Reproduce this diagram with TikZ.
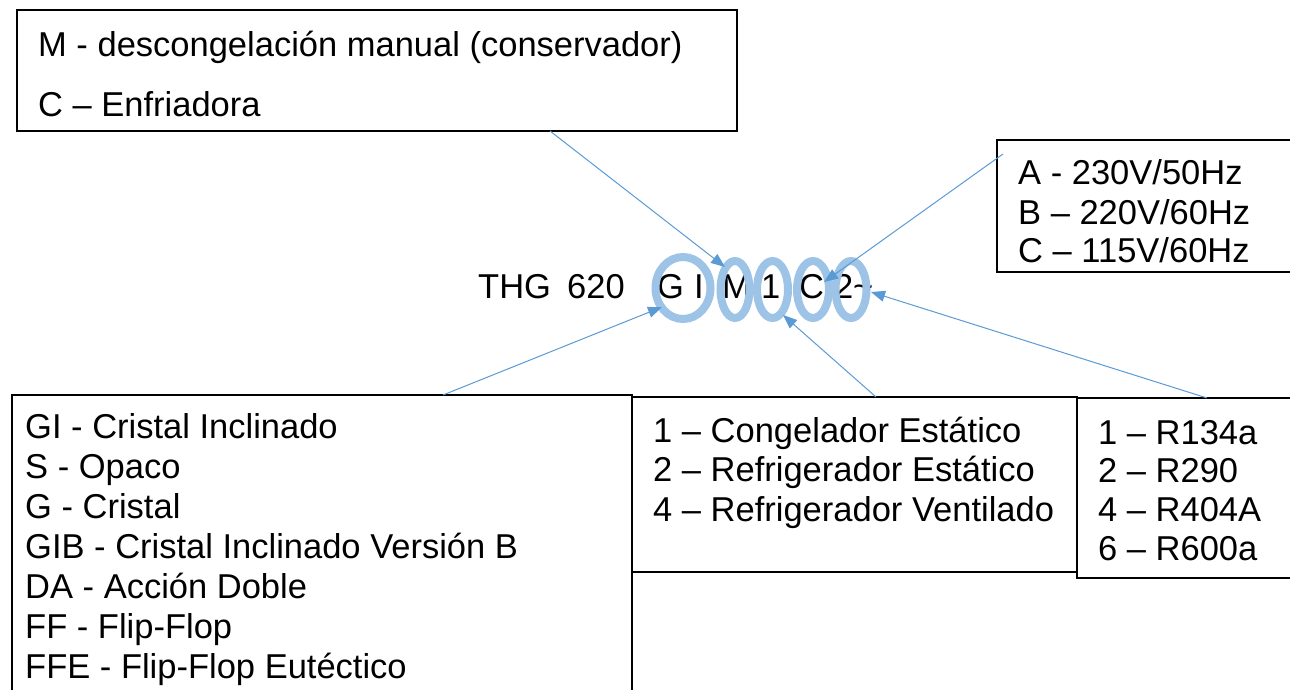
\documentclass[tikz,border=0pt]{standalone}
\usepackage{fontspec}
\setmainfont{Liberation Sans}
\usetikzlibrary{arrows.meta}
\definecolor{ringblue}{HTML}{9DC3E6}
\definecolor{arrowblue}{HTML}{5B9BD5}
\begin{document}
\begin{tikzpicture}[x=1pt,y=-1pt,
  txt/.style={anchor=base west,inner sep=0pt,font=\fontsize{34.5}{39.5}\selectfont},
  boxline/.style={draw=black,line width=1.4pt},
  ring/.style={draw=ringblue,line width=8pt},
  pointer/.style={draw=arrowblue,line width=1pt,-{Triangle[length=14pt,width=11pt]}}]
\useasboundingbox (0,0) rectangle (1290,690);
\fill[white] (0,0) rectangle (1290,690);
\begin{scope}
\clip (0,0) rectangle (1290,690);
% boxes
\draw[boxline] (17,10) rectangle (737,131);
\draw[boxline] (997,140) rectangle (1300,272);
\draw[boxline] (12,395) rectangle (632,700);
\draw[boxline] (632,397) rectangle (1077,572);
\draw[boxline] (1077,398) rectangle (1300,578);
\end{scope}
% box texts
\node[txt] (m1) at (38,57) {M - descongelación manual (conservador)};
\node[txt] (m2) at (38,117) {C – Enfriadora};
\node[txt] (v1) at (1018,184) {A - 230V/50Hz};
\node[txt] (v2) at (1018,224) {B – 220V/60Hz};
\node[txt] (v3) at (1018,262) {C – 115V/60Hz};
\node[txt] (g1) at (25,438) {GI - Cristal Inclinado};
\node[txt] (g2) at (25,478) {S - Opaco};
\node[txt] (g3) at (25,518) {G - Cristal};
\node[txt] (g4) at (25,558) {GIB - Cristal Inclinado Versión B};
\node[txt] (g5) at (25,598) {DA - Acción Doble};
\node[txt] (g6) at (25,638) {FF - Flip-Flop};
\node[txt] (g7) at (25,678) {FFE - Flip-Flop Eutéctico};
\node[txt] (c1) at (653,442) {1 – Congelador Estático};
\node[txt] (c2) at (653,481) {2 – Refrigerador Estático};
\node[txt] (c3) at (653,521) {4 – Refrigerador Ventilado};
\node[txt] (r1) at (1098,444) {1 – R134a};
\node[txt] (r2) at (1098,482) {2 – R290};
\node[txt] (r3) at (1098,521) {4 – R404A};
\node[txt] (r4) at (1098,560) {6 – R600a};
% code
\node[txt] (thg) at (478,298) {THG};
\node[txt] (six) at (567,298) {620};
\node[txt] (cG) at (657,298) {G};
\node[txt] (cI) at (694,298) {I};
\node[txt] (cM) at (722,298) {M};
\node[txt] (c1d) at (761,298) {1};
\node[txt] (cC) at (799,298) {C};
\node[txt] (c2d) at (834,298) {2};
\node[txt] (ct) at (853,298) {\textasciitilde};
% rings
\draw[ring] (683,288) ellipse [x radius=27.5, y radius=31];
\draw[ring] (735,289.5) ellipse [x radius=14.5, y radius=28.5];
\draw[ring] (772.5,289.5) ellipse [x radius=15.5, y radius=28.5];
\draw[ring] (813,289.5) ellipse [x radius=16, y radius=28.5];
\draw[ring] (851,289.5) ellipse [x radius=15.5, y radius=28.5];
% connector points
\coordinate (s1) at (550,131);
\coordinate (e1) at (725,267);
\coordinate (s2) at (1003,154);
\coordinate (e2) at (824,282);
\coordinate (s3) at (443,395);
\coordinate (e3) at (662,307);
\coordinate (s4) at (876,397);
\coordinate (e4) at (783,315);
\coordinate (s5) at (1207,398);
\coordinate (e5) at (871,292);
\draw[pointer] (s1) -- (e1);
\draw[pointer] (s2) -- (e2);
\draw[pointer] (s3) -- (e3);
\draw[pointer] (s4) -- (e4);
\draw[pointer] (s5) -- (e5);
\end{tikzpicture}
\end{document}
